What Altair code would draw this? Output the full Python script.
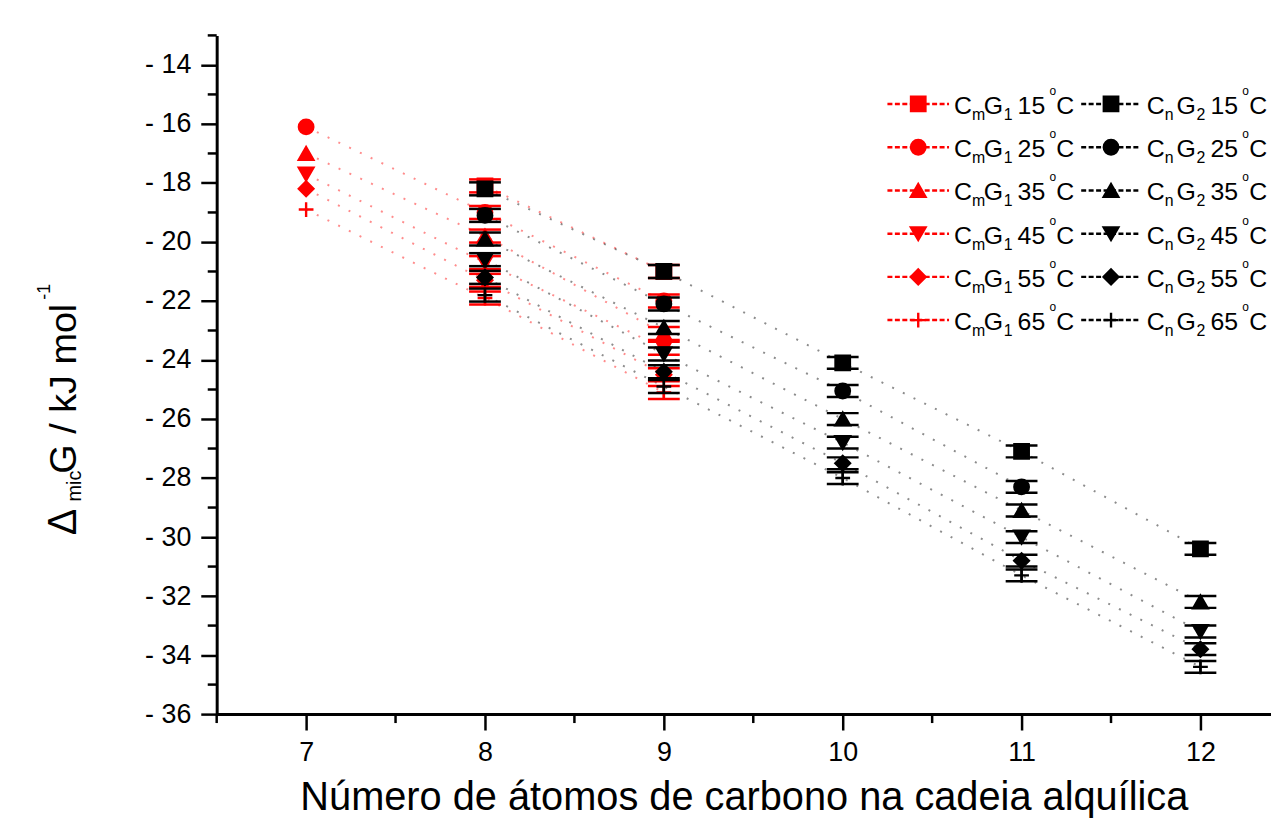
import altair as alt
import pandas as pd

# ---------------- data ----------------
temps = ["15", "25", "35", "45", "55", "65"]

cmg1_x = [7, 8, 9]
cmg1_15 = [None, -18.1, -21.0]
cmg1_25 = [-16.1, -19.0, -22.0]
cmg1_35 = [-17.0, -19.8, -23.1]
cmg1_45 = [-17.7, -20.7, -23.6]
cmg1_55 = [-18.2, -21.3, -24.5]
cmg1_65 = [-18.9, -21.9, -25.1]
cmg1_err = [0.0, 0.22, 0.22]

cng2_x = [8, 9, 10, 11, 12]
cng2_15 = [-18.2, -21.0, -24.1, -27.1, -30.4]
cng2_25 = [-19.1, -22.1, -25.05, -28.3, None]
cng2_35 = [-19.9, -22.9, -26.0, -29.1, -32.2]
cng2_45 = [-20.6, -23.8, -26.8, -30.0, -33.2]
cng2_55 = [-21.2, -24.4, -27.5, -30.8, -33.8]
cng2_65 = [-21.8, -24.9, -28.0, -31.3, -34.4]
cng2_err = [0.22, 0.22, 0.2, 0.2, 0.2]

x_major = [7, 8, 9, 10, 11, 12]
x_minor = [6.5, 7.5, 8.5, 9.5, 10.5, 11.5]
y_major = [-36, -34, -32, -30, -28, -26, -24, -22, -20, -18, -16, -14]
y_minor = [-35, -33, -31, -29, -27, -25, -23, -21, -19, -17, -15, -13]

x_title = "Número de átomos de carbono na cadeia alquílica"
y_title_parts = ["Δ", "mic", "G / kJ mol", "-1"]
legend_red = ["C", "m", "G", "1"]
legend_black = ["C", "n", "G", "2"]

# ---------------- table ----------------
rows = []
for series, xs, sets, errs in [
    ("CmG1", cmg1_x, [cmg1_15, cmg1_25, cmg1_35, cmg1_45, cmg1_55, cmg1_65], cmg1_err),
    ("CnG2", cng2_x, [cng2_15, cng2_25, cng2_35, cng2_45, cng2_55, cng2_65], cng2_err),
]:
    for t, vals in zip(temps, sets):
        for x, v, e in zip(xs, vals, errs):
            if v is None:
                continue
            rows.append(dict(series=series, temp=t, n=x, dG=v, lo=v - e, hi=v + e))
df = pd.DataFrame(rows)

# ---------------- layout ----------------
W, H = 1061, 683
F = "Liberation Sans"
RED, BLACK = "#ff0000", "#000000"
PLUS = "M-1,0H1M0,-1V1"

X_SCALE = alt.Scale(domain=[6.5, 6.5 + W / 180.0], nice=False, zero=False)
Y_SCALE = alt.Scale(domain=[-36, -13], nice=False, zero=False)
COLOR = alt.Scale(domain=["CmG1", "CnG2"], range=[RED, BLACK])
SHAPE = alt.Scale(domain=temps, range=["square", "circle", "triangle-up", "triangle-down", "diamond", PLUS])
SIZE = alt.Scale(domain=temps, range=[210, 220, 360, 360, 300, 260])

x_axis = alt.Axis(values=x_major, format="d", tickSize=16, tickWidth=2.5, domainWidth=3,
                  labelFontSize=27, labelPadding=10, title=x_title, titleFontSize=40,
                  titleFontWeight="normal", titlePadding=12, grid=False)
y_axis = alt.Axis(values=y_major, tickSize=16, tickWidth=2.5, domainWidth=3,
                  labelFontSize=27, labelPadding=10, title=None, grid=False,
                  labelExpr="datum.value < 0 ? '- ' + abs(datum.value) : datum.label")


def X(field="n"):
    return alt.X(f"{field}:Q", scale=X_SCALE, axis=x_axis)


def Y(field="dG"):
    return alt.Y(f"{field}:Q", scale=Y_SCALE, axis=y_axis)


base = alt.Chart(df)

lines = base.mark_line(strokeDash=[2, 10], strokeWidth=2, opacity=0.45).encode(
    x=X(), y=Y(),
    color=alt.Color("series:N", scale=COLOR, legend=None),
    detail="temp:N",
)


def series_layers(name):
    b = base.transform_filter(alt.datum.series == name)
    e = b.transform_filter(alt.datum.hi > alt.datum.lo)
    col = alt.Color("series:N", scale=COLOR, legend=None)
    rule = e.mark_rule(strokeWidth=2.5).encode(x=X(), y=Y("lo"), y2="hi:Q", color=col)
    cap_lo = e.mark_tick(orient="horizontal", thickness=2.5, size=32, opacity=1).encode(
        x=X(), y=Y("lo"), color=col)
    cap_hi = e.mark_tick(orient="horizontal", thickness=2.5, size=32, opacity=1).encode(
        x=X(), y=Y("hi"), color=col)
    pts = b.mark_point(filled=True, strokeWidth=2.4, opacity=1).encode(
        x=X(), y=Y(),
        fill=alt.Fill("series:N", scale=COLOR, legend=None),
        stroke=alt.Stroke("series:N", scale=COLOR, legend=None),
        shape=alt.Shape("temp:N", scale=SHAPE, legend=None),
        size=alt.Size("temp:N", scale=SIZE, legend=None),
    )
    return [rule, cap_lo, cap_hi, pts]


x_minor_ticks = alt.Chart(pd.DataFrame({"n": x_minor})).mark_rule(strokeWidth=2.5, color=BLACK).encode(
    x=X(), y=alt.value(H), y2=alt.value(H + 9))
y_minor_ticks = alt.Chart(pd.DataFrame({"dG": y_minor})).mark_rule(strokeWidth=2.5, color=BLACK).encode(
    y=Y(), x=alt.value(-9), x2=alt.value(0))

# ---------------- custom legend ----------------
leg = alt.Chart(pd.DataFrame({"temp": temps, "row": list(range(len(temps)))})).transform_calculate(
    ypx="69 + datum.row * 43.5")
LY = alt.Y("ypx:Q", scale=None, axis=None)


def legend_column(color, x_line0, x_line1, x_sym, x0, parts):
    out = []
    out.append(leg.mark_rule(strokeDash=[5, 2.5], strokeWidth=2.5, color=color).encode(
        x=alt.value(x_line0), x2=alt.value(x_line1), y=LY))
    out.append(leg.mark_point(filled=True, strokeWidth=2.4, opacity=1).encode(
        x=alt.value(x_sym), y=LY, fill=alt.value(color), stroke=alt.value(color),
        shape=alt.Shape("temp:N", scale=SHAPE, legend=None),
        size=alt.Size("temp:N", scale=SIZE, legend=None)))
    big, small = 25, 16
    specs = [(parts[0], 0, big, 10), (parts[1], 18, small, 16), (parts[2], 30, big, 10),
             (parts[3], 50, small, 16)]
    for txt, dx, fs, dy in specs:
        out.append(leg.mark_text(text=txt, font=F, fontSize=fs, align="left", baseline="alphabetic",
                                 dy=dy, color=BLACK).encode(x=alt.value(x0 + dx), y=LY))
    out.append(leg.mark_text(font=F, fontSize=big, align="left", baseline="alphabetic", dy=10,
                             color=BLACK).encode(x=alt.value(x0 + 64), y=LY, text="temp:N"))
    out.append(leg.mark_text(text="o", font=F, fontSize=12, align="left", baseline="alphabetic", dy=-9,
                             color=BLACK).encode(x=alt.value(x0 + 96), y=LY))
    out.append(leg.mark_text(text="C", font=F, fontSize=big, align="left", baseline="alphabetic", dy=10,
                             color=BLACK).encode(x=alt.value(x0 + 103), y=LY))
    return out


# page x minus 218 gives plot x
legend_layers = (legend_column(RED, 675, 737, 706, 742, legend_red)
                 + legend_column(BLACK, 870, 930, 900, 936, legend_black))

# ---------------- y title (rotated pieces) ----------------
def ytitle_piece(txt, xpx, ypx, fs):
    return alt.Chart(pd.DataFrame({"label": [txt]})).mark_text(
        font=F, fontSize=fs, angle=270, align="left", baseline="alphabetic", color=BLACK
    ).encode(x=alt.value(xpx), y=alt.value(ypx), text="label:N")


ytitle = [
    ytitle_piece(y_title_parts[0], -142, 503, 40),
    ytitle_piece(y_title_parts[1], -137, 469, 20),
    ytitle_piece(y_title_parts[2], -142, 441, 38),
    ytitle_piece(y_title_parts[3], -168, 266, 18),
]

layers = ([lines] + series_layers("CmG1") + series_layers("CnG2")
          + [x_minor_ticks, y_minor_ticks] + legend_layers + ytitle)

chart = alt.layer(*layers).properties(
    width=W, height=H,
    autosize=alt.AutoSizeParams(type="none"),
    padding={"left": 210, "top": 25, "right": 0, "bottom": 107},
).configure_axis(
    labelFont=F, titleFont=F, labelColor=BLACK, titleColor=BLACK,
    domainColor=BLACK, tickColor=BLACK, grid=False,
).configure_view(stroke=None)

chart.save("out.html", embed_options={"renderer": "svg", "actions": False})
